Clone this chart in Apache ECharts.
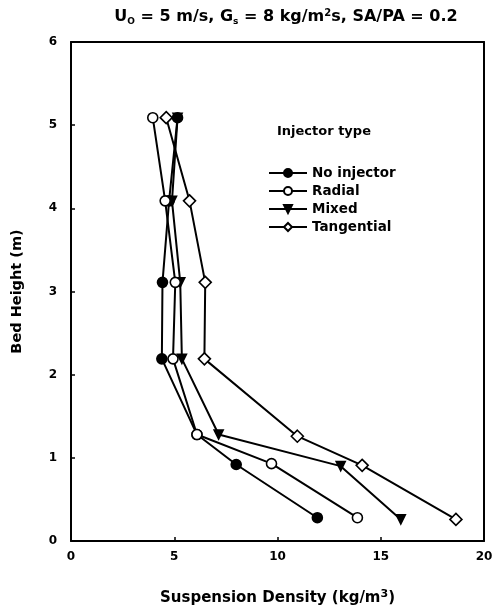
<!DOCTYPE html>
<html><head><meta charset="utf-8">
<script src="https://cdn.jsdelivr.net/npm/echarts@6/dist/echarts.min.js"></script>
<style>html,body{margin:0;padding:0;background:#fff}#c{width:492px;height:608px}</style>
</head><body><div id="c"></div>
<script>
const seriesNames = ['No injector', 'Radial', 'Mixed', 'Tangential'];
const xTicks = [0, 5, 10, 15, 20];
const yTicks = [0, 1, 2, 3, 4, 5, 6];
const noInjX = [5.16, 4.75, 4.43, 4.40, 6.10, 8.00, 11.93];
const noInjY = [5.09, 4.09, 3.11, 2.19, 1.28, 0.92, 0.28];
const radialX = [3.96, 4.56, 5.05, 4.94, 6.10, 9.71, 13.87];
const radialY = [5.09, 4.09, 3.11, 2.19, 1.28, 0.93, 0.28];
const mixedX = [5.16, 4.89, 5.29, 5.37, 7.15, 13.06, 15.97];
const mixedY = [5.09, 4.09, 3.11, 2.19, 1.28, 0.90, 0.26];
const tangX = [4.61, 5.74, 6.50, 6.46, 10.96, 14.10, 18.64];
const tangY = [5.09, 4.09, 3.11, 2.19, 1.26, 0.91, 0.26];

const pair = (xs, ys) => xs.map((x, i) => [x, ys[i]]);
const F = 'DejaVu Sans, sans-serif';
const chart = echarts.init(document.getElementById('c'), null, {renderer: 'canvas'});
const base = {type: 'line', symbolSize: 10, lineStyle: {color: '#000', width: 2},
  itemStyle: {color: '#000', borderColor: '#000', borderWidth: 1.6}, emphasis: {disabled: true}};
const hiddenAxis = {axisLine: {show: true, onZero: false, lineStyle: {color: '#000', width: 2}},
  axisTick: {show: false}, axisLabel: {show: false}, splitLine: {show: false}};
chart.setOption({
  animation: false,
  backgroundColor: '#fff',
  title: [{
    text: '{m|U}{s|O}{m| = 5 m/s, G}{s|s}{m| = 8 kg/m}{p|2}{m|s, SA/PA = 0.2}',
    left: 281, top: 1, textAlign: 'center',
    textStyle: {rich: {
      m: {fontFamily: F, fontWeight: 'bold', fontSize: 16, color: '#000', lineHeight: 22},
      s: {fontFamily: F, fontWeight: 'bold', fontSize: 9, color: '#000', lineHeight: 22, padding: [9, 0, 0, 0]},
      p: {fontFamily: F, fontWeight: 'bold', fontSize: 10, color: '#000', lineHeight: 22, padding: [0, 0, 8, 0]}
    }}
  }, {
    text: 'Injector type', left: 272, top: 120,
    textStyle: {fontFamily: F, fontWeight: 'bold', fontSize: 13, color: '#000'}
  }],
  legend: {
    data: seriesNames, orient: 'vertical', left: 263, top: 161, itemGap: 4,
    itemWidth: 38, itemHeight: 10,
    textStyle: {fontFamily: F, fontWeight: 'bold', fontSize: 13.5, color: '#000'}
  },
  grid: {left: 71, right: 8, top: 42, bottom: 67, outerBoundsMode: 'none', containLabel: false},
  xAxis: [{
    type: 'value', min: 0, max: 20, interval: 5,
    name: '{m|Suspension Density (kg/m}{p|3}{m|)}', nameLocation: 'middle', nameGap: 46,
    nameTextStyle: {rich: {
      m: {fontFamily: F, fontWeight: 'bold', fontSize: 15, color: '#000', lineHeight: 22},
      p: {fontFamily: F, fontWeight: 'bold', fontSize: 11, color: '#000', lineHeight: 22, padding: [0, 0, 8, 0]}
    }},
    axisLine: {show: true, lineStyle: {color: '#000', width: 2}},
    axisTick: {show: true, inside: true, length: 4, lineStyle: {color: '#000', width: 1.5}},
    axisLabel: {fontFamily: F, fontWeight: 'bold', fontSize: 12, color: '#000', margin: 10,
      formatter: v => xTicks.includes(v) ? String(v) : ''},
    splitLine: {show: false}
  }, Object.assign({type: 'value', min: 0, max: 20, position: 'top'}, hiddenAxis)],
  yAxis: [{
    type: 'value', min: 0, max: 6, interval: 1,
    name: 'Bed Height (m)', nameLocation: 'middle', nameGap: 46, nameRotate: 90,
    nameTextStyle: {fontFamily: F, fontWeight: 'bold', fontSize: 14.5, color: '#000'},
    axisLine: {show: true, lineStyle: {color: '#000', width: 2}},
    axisTick: {show: true, inside: true, length: 4, lineStyle: {color: '#000', width: 1.5}},
    axisLabel: {fontFamily: F, fontWeight: 'bold', fontSize: 12, color: '#000', margin: 14,
      formatter: v => yTicks.includes(v) ? String(v) : ''},
    splitLine: {show: false}
  }, Object.assign({type: 'value', min: 0, max: 6, position: 'right'}, hiddenAxis)],
  series: [
    Object.assign({}, base, {name: seriesNames[0], data: pair(noInjX, noInjY), symbol: 'circle', z: 3}),
    Object.assign({}, base, {name: seriesNames[1], data: pair(radialX, radialY), symbol: 'circle', z: 4,
      itemStyle: {color: '#fff', borderColor: '#000', borderWidth: 1.6}}),
    Object.assign({}, base, {name: seriesNames[2], data: pair(mixedX, mixedY), symbol: 'triangle', symbolRotate: 180, symbolSize: 9, z: 2}),
    Object.assign({}, base, {name: seriesNames[3], data: pair(tangX, tangY), symbol: 'diamond', symbolSize: 12, z: 5,
      itemStyle: {color: '#fff', borderColor: '#000', borderWidth: 1.6}})
  ]
});
</script></body></html>
